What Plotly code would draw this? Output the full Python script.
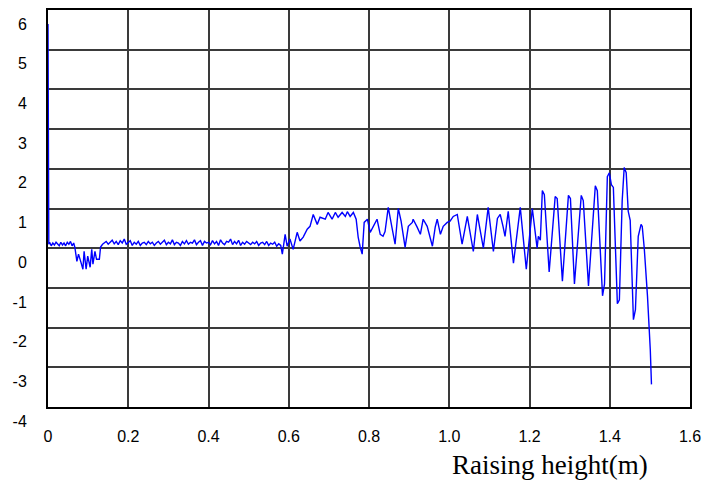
import plotly.graph_objects as go

height_m = [
    0.000, 0.002, 0.004, 0.008, 0.012, 0.016, 0.020, 0.024, 0.028, 0.032, 0.036, 0.040,
    0.044, 0.048, 0.052, 0.056, 0.060, 0.064,
    0.067, 0.072, 0.076, 0.082, 0.087, 0.090, 0.095, 0.099, 0.105, 0.109, 0.112, 0.117,
    0.121, 0.128, 0.131, 0.136,
    0.140, 0.145, 0.150, 0.155, 0.160, 0.165, 0.170, 0.175, 0.180, 0.185, 0.190, 0.195,
    0.200, 0.205, 0.210, 0.215, 0.220, 0.225, 0.230, 0.235, 0.240, 0.245, 0.250, 0.255,
    0.260, 0.265, 0.270, 0.275, 0.280, 0.285, 0.290, 0.295, 0.300, 0.305, 0.310, 0.315,
    0.320, 0.325, 0.330, 0.335, 0.340, 0.345, 0.350, 0.355, 0.360, 0.365, 0.370, 0.375,
    0.380, 0.385, 0.390, 0.395, 0.400, 0.405, 0.410, 0.415, 0.420, 0.425, 0.430, 0.435,
    0.440, 0.445, 0.450, 0.455, 0.460, 0.465, 0.470, 0.475, 0.480, 0.485, 0.490, 0.495,
    0.500, 0.505, 0.510, 0.515, 0.520, 0.525, 0.530, 0.535, 0.540, 0.545, 0.550, 0.555,
    0.560, 0.565, 0.570, 0.575, 0.580,
    0.584, 0.591, 0.596, 0.603, 0.611, 0.621, 0.628, 0.636, 0.646, 0.653, 0.661, 0.671,
    0.678, 0.691, 0.698, 0.708, 0.716, 0.723, 0.733, 0.741, 0.746, 0.753, 0.761, 0.768,
    0.773, 0.778, 0.783, 0.788, 0.796, 0.803, 0.810, 0.820, 0.828, 0.835, 0.840, 0.848,
    0.858, 0.865, 0.873, 0.880, 0.890, 0.898, 0.908, 0.910, 0.920, 0.928, 0.935, 0.945,
    0.958, 0.965, 0.970, 0.978, 0.985, 0.995, 1.002, 1.010, 1.020, 1.032, 1.045, 1.060,
    1.070, 1.085, 1.097, 1.110, 1.120, 1.127, 1.134, 1.139, 1.147,
    1.160, 1.177, 1.192, 1.207, 1.219, 1.222, 1.227, 1.232, 1.237, 1.249, 1.264, 1.269,
    1.282, 1.297, 1.302, 1.312, 1.329, 1.334, 1.347, 1.364, 1.369, 1.382, 1.387, 1.394,
    1.399, 1.404, 1.409, 1.419, 1.424, 1.431, 1.436, 1.441, 1.446, 1.451, 1.459, 1.464,
    1.471, 1.478, 1.481, 1.486, 1.494, 1.501, 1.504,
]

signal = [
    5.65, 0.10, 0.15, 0.06, 0.13, 0.08, 0.15, 0.10, 0.06, 0.15, 0.08, 0.13,
    0.06, 0.15, 0.10, 0.17, 0.06, 0.13,
    0.02, -0.33, -0.15, -0.35, -0.53, -0.08, -0.53, -0.20, -0.48, -0.03, -0.40, -0.08,
    -0.28, -0.28, 0.03, 0.10,
    0.13, 0.17, 0.10, 0.15, 0.20, 0.11, 0.17, 0.09, 0.19, 0.13, 0.23, 0.10,
    0.15, 0.19, 0.07, 0.15, 0.10, 0.17, 0.07, 0.13, 0.15, 0.09, 0.17, 0.11,
    0.15, 0.07, 0.13, 0.17, 0.10, 0.15, 0.20, 0.09, 0.15, 0.11, 0.21, 0.09,
    0.15, 0.13, 0.07, 0.17, 0.11, 0.19, 0.10, 0.15, 0.13, 0.21, 0.09, 0.15,
    0.19, 0.07, 0.17, 0.13, 0.15, 0.09, 0.19, 0.11, 0.17, 0.07, 0.21, 0.13,
    0.09, 0.17, 0.15, 0.23, 0.09, 0.17, 0.11, 0.20, 0.07, 0.15, 0.10, 0.17,
    0.13, 0.09, 0.15, 0.11, 0.17, 0.07, 0.13, 0.15, 0.09, 0.17, 0.07, 0.13,
    0.10, 0.15, 0.05, 0.11, 0.07,
    -0.15, 0.35, 0.05, 0.23, -0.03, 0.40, 0.18, 0.28, 0.48, 0.55, 0.85, 0.60,
    0.78, 0.73, 0.90, 0.73, 0.90, 0.78, 0.90, 0.80, 0.92, 0.80, 0.90, 0.73,
    0.28, 0.03, -0.15, 0.65, 0.73, 0.40, 0.53, 0.73, 0.35, 0.30, 0.42, 1.03,
    0.48, 0.10, 1.00, 0.68, 0.02, 0.55, 0.65, 0.73, 0.53, 0.35, 0.73, 0.55,
    0.05, 0.53, 0.73, 0.35, 0.55, 0.65, 0.68, 0.80, 0.85, 0.10, 0.80, -0.08,
    0.85, 0.00, 1.03, -0.08, 0.75, 0.85, 0.55, 0.30, 0.93,
    -0.38, 1.03, -0.53, 1.00, 0.00, 0.30, 0.20, 1.45, 1.35, -0.60, 1.30, 1.25,
    -0.83, 1.33, 1.25, -0.90, 1.33, 1.20, -0.95, 1.57, 1.45, -1.20, -0.90, 1.80,
    1.90, 1.60, 1.53, -1.40, -1.30, 1.20, 2.03, 1.90, 0.93, 0.70, -1.80, -1.55,
    0.30, 0.60, 0.55, 0.00, -1.20, -2.55, -3.43,
]

x_tick_vals = [0, 0.2, 0.4, 0.6, 0.8, 1.0, 1.2, 1.4, 1.6]
x_tick_text = ["0", "0.2", "0.4", "0.6", "0.8", "1.0", "1.2", "1.4", "1.6"]
y_tick_vals = [-4, -3, -2, -1, 0, 1, 2, 3, 4, 5, 6]
y_tick_text = ["-4", "-3", "-2", "-1", "0", "1", "2", "3", "4", "5", "6"]
x_title = "Raising height(m)"

fig = go.Figure()
fig.add_trace(go.Scatter(
    x=height_m, y=signal, mode="lines",
    line=dict(color="#0000ff", width=1.4),
    showlegend=False, hoverinfo="skip",
))

fig.update_layout(
    width=716, height=482,
    margin=dict(l=48, r=26, t=10, b=75),
    paper_bgcolor="white", plot_bgcolor="white",
    font=dict(family="Liberation Sans, Arial, sans-serif", size=16, color="black"),
)
fig.update_xaxes(
    range=[0, 1.6], tickvals=x_tick_vals, ticktext=x_tick_text,
    showgrid=True, gridcolor="#3a3a3a", gridwidth=1.5,
    showline=True, linecolor="black", linewidth=2, mirror=True,
    zeroline=False, ticks="", ticklabelstandoff=14, automargin=False,
)
fig.update_yaxes(
    range=[-4, 6], tickvals=y_tick_vals, ticktext=y_tick_text,
    showgrid=True, gridcolor="#3a3a3a", gridwidth=1.5,
    showline=True, linecolor="black", linewidth=2, mirror=True,
    zeroline=False, ticks="", ticklabelstandoff=16, ticklabelshift=14,
    automargin=False,
)
fig.add_annotation(
    text=x_title, xref="paper", yref="paper", x=0.782, y=-0.146,
    xanchor="center", yanchor="middle", showarrow=False,
    font=dict(family="Liberation Serif, Times New Roman, serif", size=27, color="black"),
)

fig.write_html(
    "out.html",
    config={"displayModeBar": False},
    post_script="document.body.style.margin='0';document.body.style.overflow='hidden';",
)
